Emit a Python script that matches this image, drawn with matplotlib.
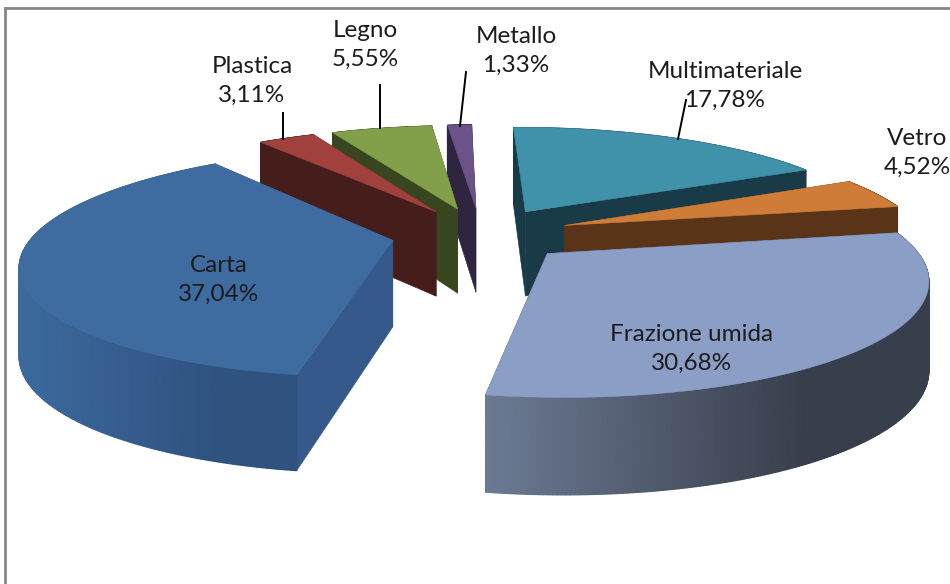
import numpy as np
import matplotlib
matplotlib.use("Agg")
import matplotlib.pyplot as plt
from matplotlib.patches import Polygon
from matplotlib.colors import LinearSegmentedColormap

# slices in drawing-wheel order, clockwise from the top
materials = ["Multimateriale", "Vetro", "Frazione umida", "Carta", "Plastica", "Legno", "Metallo"]
shares = [17.78, 4.52, 30.68, 37.04, 3.11, 5.55, 1.33]
share_labels = ["17,78%", "4,52%", "30,68%", "37,04%", "3,11%", "5,55%", "1,33%"]

top_colors = ["#3F92A9", "#CE7C38", "#8B9EC5", "#3E6BA0", "#A0413D", "#82A04A", "#6B5289"]
cut_colors = ["#193A47", "#5A3418", "#3A4250", "#35598A", "#451D1A", "#384620", "#2E2540"]
wall_left = ["#193A47", "#5A3418", "#6C7A94", "#3C6A9E", "#451D1A", "#384620", "#2E2540"]
wall_right = ["#193A47", "#5A3418", "#383F4C", "#2F527F", "#451D1A", "#384620", "#2E2540"]

# back to front
draw_order = [6, 0, 5, 1, 4, 2, 3]

start_angle = -1.0
explode = 0.25
cx, cy = 481, 234
scale_x, scale_y = 359, 108
persp = 0.19
depth = 86


def project(x, y):
    w = 1 + persp * y
    return cx + scale_x * x / w, cy - scale_y * y / w, depth / np.sqrt(w)


fig = plt.figure(figsize=(9.5, 5.84), dpi=100)
ax = fig.add_axes([0, 0, 1, 1])
ax.axis("off")

edges = start_angle + np.concatenate([[0], np.cumsum(shares)]) * 3.6 / (sum(shares) / 100)

for i in draw_order:
    a0, a1 = np.radians(edges[i]), np.radians(edges[i + 1])
    mid = (a0 + a1) / 2
    ox, oy = explode * np.sin(mid), explode * np.cos(mid)
    t = np.linspace(a0, a1, 200)
    sx, sy, d = project(ox + np.sin(t), oy + np.cos(t))
    ax0, ay0, ad = project(ox, oy)

    for px, py, pd in [(sx[0], sy[0], d[0]), (sx[-1], sy[-1], d[-1])]:
        ax.add_patch(Polygon([(ax0, ay0), (px, py), (px, py + pd), (ax0, ay0 + ad)],
                             fc=cut_colors[i], ec=cut_colors[i], lw=0.4))

    # outer wall, shaded left to right, flat once it reaches the dark end
    cmap = LinearSegmentedColormap.from_list("wall", [wall_left[i], wall_right[i]])
    shade = np.clip((sx - sx.min()) / (sx.max() - sx.min()) / 0.72, 0, 1)
    ax.pcolormesh(np.vstack([sx, sx]), np.vstack([sy, sy + d]), np.vstack([shade, shade]),
                  cmap=cmap, shading="gouraud", vmin=0, vmax=1)

    ax.add_patch(Polygon(np.column_stack([np.r_[ax0, sx], np.r_[ay0, sy]]),
                         fc=top_colors[i], ec=top_colors[i], lw=0.4))

# data labels
label_pos = {
    "Multimateriale": (725, 86), "Vetro": (917, 153), "Frazione umida": (692, 349),
    "Carta": (219, 280), "Plastica": (252, 81), "Legno": (365, 45), "Metallo": (516, 51),
}
for name, lab in zip(materials, share_labels):
    x, y = label_pos[name]
    ax.text(x, y, name + "\n" + lab, ha="center", va="center", fontsize=17.5,
            family="Lato", color="#1c1c1c", linespacing=1.5)

leaders = [((283, 113), (283, 139)), ((380, 85), (380, 128)),
           ((466, 72), (460, 126)), ((686, 100), (678, 139))]
for p, q in leaders:
    ax.plot([p[0], q[0]], [p[1], q[1]], color="black", lw=1.4)

# chart frame
ax.plot([5, 5], [584, 7.5], color="#868686", lw=2)
ax.plot([5, 950], [7.5, 7.5], color="#868686", lw=2)

ax.set_xlim(0, 950)
ax.set_ylim(584, 0)

fig.savefig("out.png", dpi=100)
